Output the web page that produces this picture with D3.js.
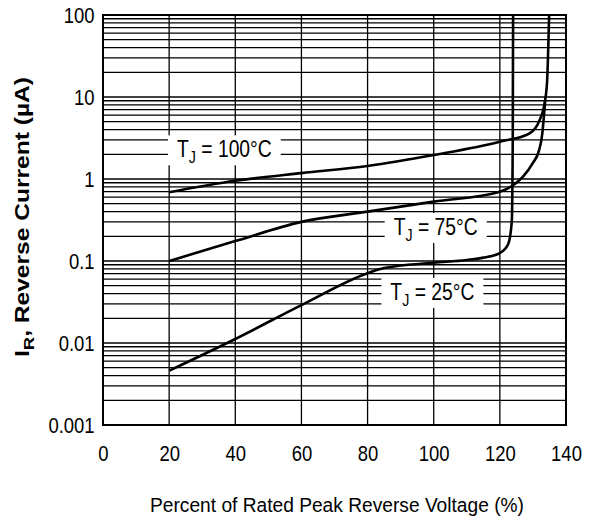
<!DOCTYPE html>
<html>
<head>
<meta charset="utf-8">
<script src="https://cdn.jsdelivr.net/npm/d3@7"></script>
<style>
  body { margin: 0; background: #fff; }
  text { font-family: "Liberation Sans", Arial, sans-serif; }
</style>
</head>
<body>
<svg width="596" height="523"></svg>
<script>
// curves: percent of rated voltage vs reverse current (uA)
var pct25 = [20, 40, 60, 80, 85, 100, 110, 115, 120, 122.5, 123.6, 123.9, 124];
var ir25  = [0.0046, 0.0112, 0.029, 0.071, 0.082, 0.095, 0.103, 0.11, 0.125, 0.16, 0.3, 3, 100];

var pct75 = [20, 40, 60, 80, 100, 120, 125, 127, 130, 131.8, 132.8, 133.3, 133.7];
var ir75  = [0.1, 0.175, 0.3, 0.4, 0.53, 0.7, 0.9, 1.07, 1.57, 2.2, 3.5, 5.7, 9];

var pct100 = [20, 40, 60, 80, 100, 120, 129, 132, 133.7, 134.3, 134.9];
var ir100  = [0.69, 0.95, 1.18, 1.44, 1.96, 2.85, 3.6, 5.2, 9.2, 16, 100];

var xTicks = [0, 20, 40, 60, 80, 100, 120, 140];
var yTicks = [0.001, 0.01, 0.1, 1, 10, 100];
var yTickLabels = ["0.001", "0.01", "0.1", "1", "10", "100"];

var curveLabels = [
  {name: "100°C", pct: 36.7, ir: 2.3},
  {name: "75°C", pct: 100.6, ir: 0.26},
  {name: "25°C", pct: 99.6, ir: 0.042}
];

var narrow = 0.84; // the source font is a condensed sans

var svg = d3.select("svg"),
    margin = {top: 15, right: 30, bottom: 98, left: 103},
    width = svg.attr("width") - margin.left - margin.right,
    height = svg.attr("height") - margin.top - margin.bottom,
    g = svg.append("g").attr("transform", "translate(" + margin.left + "," + margin.top + ")");

var x = d3.scaleLinear().domain([0, 140]).range([0, width]),
    y = d3.scaleLog().domain([0.001, 100]).range([height, 0]);

// minor log grid: 1..9 in every decade
var gridY = [];
for (var k = -3; k <= 1; k++) {
  for (var m = 1; m <= 9; m++) gridY.push(m * Math.pow(10, k));
}
gridY.push(100);

g.append("g")
  .selectAll("line")
  .data(gridY)
  .enter().append("line")
    .attr("x1", 0).attr("x2", width)
    .attr("y1", function(d) { return y(d); })
    .attr("y2", function(d) { return y(d); })
    .attr("stroke", "#000")
    .attr("stroke-width", 1.3);

g.append("g")
  .selectAll("line")
  .data(xTicks)
  .enter().append("line")
    .attr("x1", function(d) { return x(d); })
    .attr("x2", function(d) { return x(d); })
    .attr("y1", 0).attr("y2", height)
    .attr("stroke", "#000")
    .attr("stroke-width", 1.3);

g.append("rect")
    .attr("width", width).attr("height", height)
    .attr("fill", "none").attr("stroke", "#000").attr("stroke-width", 2);

// label boxes sit over the grid
var lab = g.selectAll(".lab")
  .data(curveLabels)
  .enter().append("g")
    .attr("class", "lab")
    .attr("transform", function(d) { return "translate(" + x(d.pct) + "," + y(d.ir) + ")"; });

var labText = lab.append("text")
    .attr("transform", "scale(" + narrow + ",1)")
    .attr("dy", "0.35em")
    .attr("text-anchor", "middle")
    .style("font-size", "23px")
    .attr("fill", "#000");
labText.append("tspan").text("T");
labText.append("tspan").attr("dy", "6").style("font-size", "17px").text("J");
labText.append("tspan").attr("dy", "-6").text(function(d) { return " = " + d.name; });

lab.insert("rect", "text")
    .each(function() {
      var bb = this.parentNode.querySelector("text").getBBox();
      d3.select(this)
        .attr("x", bb.x * narrow - 9).attr("y", -14)
        .attr("width", bb.width * narrow + 18).attr("height", 30);
    })
    .attr("fill", "#fff");

var line = d3.line()
    .curve(d3.curveMonotoneX)
    .x(function(d) { return x(d[0]); })
    .y(function(d) { return y(d[1]); });

[[pct25, ir25], [pct75, ir75], [pct100, ir100]].forEach(function(s) {
  g.append("path")
      .datum(d3.zip(s[0], s[1]))
      .attr("d", line)
      .attr("fill", "none")
      .attr("stroke", "#000")
      .attr("stroke-width", 2.6);
});

// axes: labels only, the grid is drawn above
g.append("g")
    .attr("transform", "translate(0," + height + ")")
    .call(d3.axisBottom(x).tickValues(xTicks).tickSize(0).tickPadding(20).tickFormat(d3.format("d")))
    .call(function(a) { a.select(".domain").remove(); });

g.append("g")
    .call(d3.axisLeft(y).tickValues(yTicks).tickSize(0).tickPadding(10)
      .tickFormat(function(d, i) { return yTickLabels[i]; }))
    .call(function(a) { a.select(".domain").remove(); });

g.selectAll(".tick text")
    .attr("font-family", null)
    .attr("transform", "scale(" + narrow + ",1)")
    .style("font-size", "22px")
    .attr("fill", "#000");

svg.append("text")
    .attr("x", 337)
    .attr("y", 512)
    .attr("text-anchor", "middle")
    .attr("textLength", 374)
    .attr("lengthAdjust", "spacingAndGlyphs")
    .style("font-size", "20px")
    .text("Percent of Rated Peak Reverse Voltage (%)");

var yTitle = svg.append("text")
    .attr("transform", "translate(29,217)rotate(-90)")
    .attr("text-anchor", "middle")
    .attr("textLength", 280)
    .attr("lengthAdjust", "spacingAndGlyphs")
    .style("font-size", "20px")
    .style("font-weight", "bold");
yTitle.append("tspan").text("I");
yTitle.append("tspan").attr("dy", "5").style("font-size", "15px").text("R");
yTitle.append("tspan").attr("dy", "-5").text(", Reverse Current (µA)");
</script>
</body>
</html>
